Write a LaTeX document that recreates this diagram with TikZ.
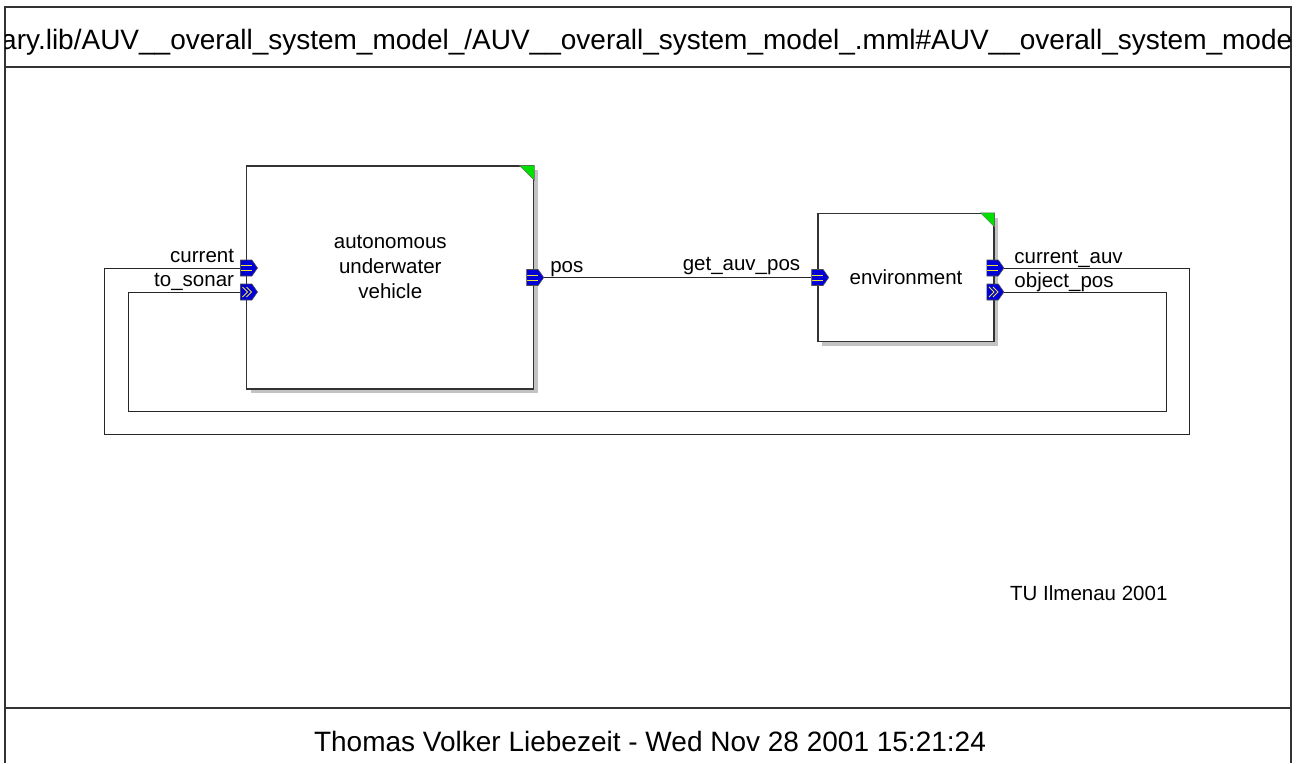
\documentclass[tikz,border=0pt]{standalone}
\usepackage{fontspec}
\setmainfont{Liberation Sans}
\usetikzlibrary{positioning,calc,shapes.symbols,shadows}
\definecolor{PortBlue}{RGB}{0,0,215}
\definecolor{PortYellow}{RGB}{235,225,60}
\definecolor{CornerGreen}{RGB}{0,225,0}
\definecolor{ShadowGray}{RGB}{195,195,195}
\newcommand{\bigtext}{\fontsize{28}{34}\selectfont}

\begin{document}
\begin{tikzpicture}[x=1pt,y=-1pt,font=\fontsize{20.5}{25}\selectfont,
block/.style={draw=black!80,line width=1.2pt,fill=white,inner sep=0pt,
  drop shadow={shadow xshift=4pt,shadow yshift=-4pt,fill=ShadowGray,opacity=1}},
port/.style={shape=signal,signal to=east,signal pointer angle=110,draw=black!70,fill=PortBlue,
  minimum width=17pt,minimum height=16pt,inner sep=0pt,line width=0.6pt},
flatport/.style={port,path picture={\draw[PortYellow,line width=0.9pt]
  let \p1=(path picture bounding box.north west) in
  (\x1,\y1-5.5pt) -- ++(11pt,0pt) (\x1,\y1-10.5pt) -- ++(11pt,0pt);}},
chevport/.style={port,path picture={\draw[PortYellow,line width=0.9pt]
  let \p1=(path picture bounding box.north west) in
  (\x1+2pt,\y1-3pt) -- (\x1+7pt,\y1-8pt) -- (\x1+2pt,\y1-13pt)
  (\x1+6pt,\y1-3pt) -- (\x1+11pt,\y1-8pt) -- (\x1+6pt,\y1-13pt);}},
plabel/.style={inner sep=0pt},
wire/.style={line width=1pt,black!85},
frame/.style={line width=1.4pt,black!80}]
\useasboundingbox (0,0) rectangle (1300,763);
% sheet frame
\draw[frame] (5,763) -- (5,7) -- (1291,7) -- (1291,763);
\draw[frame] (5,67) -- (1291,67);
\draw[frame] (5,708) -- (1291,708);
\begin{scope}
\clip (5,7) rectangle (1291,67);
\node[font=\bigtext,anchor=base west,inner sep=0pt] (title) at (1,49)
  {ary.lib/AUV\_\_overall\_system\_model\_/AUV\_\_overall\_system\_model\_.mml\#AUV\_\_overall\_system\_mode};
\end{scope}
% blocks
\node[block,minimum width=287pt,minimum height=223pt,
  label={[name=auvtext,align=center,yshift=10.5pt]center:autonomous\\underwater\\vehicle}] (auv) at (390.3,277.5) {};
\node[block,minimum width=176pt,minimum height=128pt,right=283pt of auv] (env) {environment};
\fill[CornerGreen,draw=black!60] ([xshift=-15pt]auv.north east) -- (auv.north east) -- ([yshift=-15pt]auv.north east) -- cycle;
\fill[CornerGreen,draw=black!60] ([xshift=-14pt]env.north east) -- (env.north east) -- ([yshift=-14pt]env.north east) -- cycle;
% ports
\node[flatport] (pcur) at ($(auv.west)+(0,-9.5)$) {};
\node[chevport] (psonar) at ($(auv.west)+(0,14.5)$) {};
\node[flatport] (ppos) at ($(auv.east)+(-2,0)$) {};
\node[flatport] (pget) at (env.west) {};
\node[flatport] (pcauv) at ($(env.east)+(-2,-9.5)$) {};
\node[chevport] (pobj) at ($(env.east)+(-2,14.5)$) {};
\node[plabel,anchor=base east] (lcur) at ([shift={(-6,-6)}]pcur.west) {current};
\node[plabel,anchor=base east] (lsonar) at ([shift={(-6,-6)}]psonar.west) {to\_sonar};
\node[plabel,anchor=base west] (lpos) at ([shift={(6,-5)}]ppos.east) {pos};
\node[plabel,anchor=base east] (lget) at ([shift={(-11,-7)}]pget.west) {get\_auv\_pos};
\node[plabel,anchor=base west] (lcauv) at ([shift={(10,-5)}]pcauv.east) {current\_auv};
\node[plabel,anchor=base west] (lobj) at ([shift={(10,-5)}]pobj.east) {object\_pos};
% connections
\coordinate (outerR) at (1189,434);
\coordinate (outerL) at (104,434);
\coordinate (innerR) at (1166,411);
\coordinate (innerL) at (128,411);
\draw[wire] (ppos.east) -- (pget.west);
\draw[wire] (pcauv.east) -| (outerR) -- (outerL) |- (pcur.west);
\draw[wire] (pobj.east) -| (innerR) -- (innerL) |- (psonar.west);
\node[anchor=base west,inner sep=0pt] (tu) at (1010,600) {TU Ilmenau 2001};
\node[font=\bigtext,anchor=base,inner sep=0pt] (footer) at (650,751) {Thomas Volker Liebezeit - Wed Nov 28 2001 15:21:24};
\end{tikzpicture}
\end{document}
